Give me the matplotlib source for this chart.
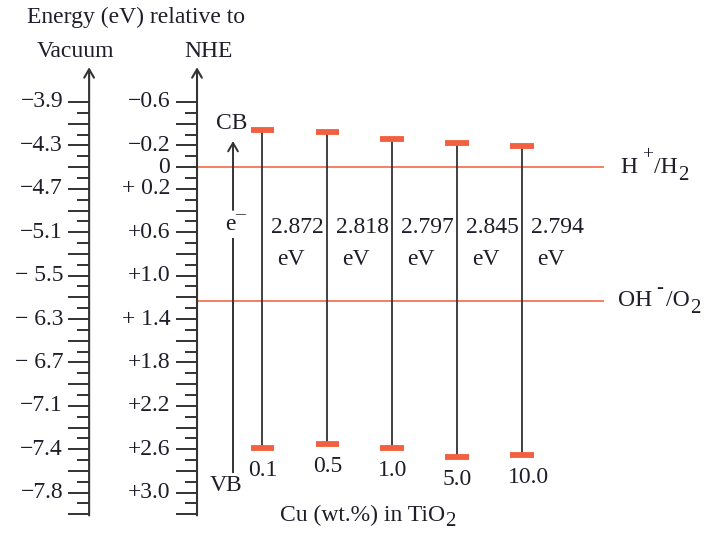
import numpy as np
import matplotlib
matplotlib.use('Agg')
import matplotlib.pyplot as plt

plt.rcParams['font.family'] = ['Liberation Serif', 'DejaVu Serif']

# data: band edges vs NHE (eV)
cu_loading = ['0.1', '0.5', '1.0', '5.0', '10.0']
band_gap = ['2.872', '2.818', '2.797', '2.845', '2.794']
cb_edge = [-0.34, -0.32, -0.26, -0.22, -0.19]
vb_edge = [2.59, 2.55, 2.59, 2.67, 2.65]

nhe_pos = [-0.6, -0.2, 0.0, 0.2, 0.6, 1.0, 1.4, 1.8, 2.2, 2.6, 3.0]
nhe_labels = ['−0.6', '−0.2', '0', '+ 0.2', '+0.6', '+1.0', '+ 1.4', '+1.8', '+2.2', '+2.6', '+3.0']
vac_pos = [-0.6, -0.2, 0.2, 0.6, 1.0, 1.4, 1.8, 2.2, 2.6, 3.0]
vac_labels = ['−3.9', '−4.3', '−4.7', '−5.1', '− 5.5', '− 6.3', '− 6.7', '−7.1', '−7.4', '−7.8']

h2_level = 0.0
o2_level = 1.23

red = '#f2603f'
line_red = '#f37656'
dark = '#333333'
txt = '#1e1e2a'
fs = 17


def chain_text(ax, x, y, parts, ha='left'):
    # parts: (text, size, vertical offset in points, gap in points)
    first = ax.text(x, y, parts[0][0], ha=ha, va='center', fontsize=parts[0][1], color=txt)
    prev = first
    for s, size, dy, gap in parts[1:]:
        prev = ax.annotate(s, xy=(1, 0.5), xycoords=(prev, first),
                           xytext=(gap, dy), textcoords='offset points',
                           ha='left', va='center', fontsize=size, color=txt)
    return first


fig = plt.figure(figsize=(7.09, 5.33), dpi=100)
ax = fig.add_axes([0, 0, 1, 1])
ax.axis('off')
ax.set_xlim(-4.031, 6.877)
ax.set_ylim(3.372, -1.540)

x_vac = -2.66
x_nhe = -1.0
minor = np.round(np.arange(-0.6, 3.21, 0.1), 2)

# two energy scales with arrows and ticks
for xa in (x_vac, x_nhe):
    ax.annotate('', xy=(xa, -0.92), xytext=(xa, 3.21),
                arrowprops=dict(arrowstyle='->,head_length=0.6,head_width=0.35',
                                color=dark, lw=1.5, shrinkA=0, shrinkB=0))
    for t in minor:
        long_tick = abs(round(t * 10)) % 2 == 0
        ax.hlines(t, xa - (0.33 if long_tick else 0.19), xa, color=dark, lw=1.4)

for p, lab in zip(vac_pos, vac_labels):
    ax.text(-3.06, p, lab, ha='right', va='center', fontsize=fs, color=txt)
for p, lab in zip(nhe_pos, nhe_labels):
    ax.text(-1.41, p, lab, ha='right', va='center', fontsize=fs, color=txt)

ax.text(-1.94, -1.383, 'Energy (eV) relative to', ha='center', va='center', fontsize=fs, color=txt)
ax.text(-2.877, -1.061, 'Vacuum', ha='center', va='center', fontsize=fs, color=txt)
ax.text(-0.815, -1.061, 'NHE', ha='center', va='center', fontsize=fs, color=txt)

# redox levels
ax.hlines([h2_level, o2_level], x_nhe, 5.26, color=line_red, lw=1.3)
chain_text(ax, 5.52, h2_level, [('H', fs, 0, 0), ('+', 14, 9, 3), ('/H', fs, 0, 1), ('2', 15, -6, 0)])
chain_text(ax, 5.48, o2_level, [('OH', fs, 0, 0), ('-', 15, 9, 3), ('/O', fs, 0, 2), ('2', 15, -6, 0)])

# CB / VB arrow with electron
ax.annotate('', xy=(-0.446, -0.24), xytext=(-0.446, 0.395),
            arrowprops=dict(arrowstyle='->,head_length=0.6,head_width=0.35',
                            color=dark, lw=1.4, shrinkA=0, shrinkB=0))
ax.vlines(-0.446, 0.653, 2.82, color=dark, lw=1.4)
ax.text(-0.46, -0.40, 'CB', ha='center', va='center', fontsize=fs, color=txt)
ax.text(-0.55, 2.93, 'VB', ha='center', va='center', fontsize=fs, color=txt)
chain_text(ax, -0.57, 0.53, [('e', fs, 0, 0), ('\u2013', 14, 7, 0)])

# band edges for each Cu loading
for i, (cb, vb) in enumerate(zip(cb_edge, vb_edge)):
    ax.vlines(i, cb, vb, color=dark, lw=1.3)
    ax.hlines([cb, vb], i - 0.177, i + 0.177, color=red, lw=4.2)
    ax.text(i + 0.54, 0.56, band_gap[i], ha='center', va='center', fontsize=fs, color=txt)
    ax.text(i + 0.45, 0.847, 'eV', ha='center', va='center', fontsize=fs, color=txt)
    ax.text(i - 0.22, vb + 0.21, cu_loading[i], ha='left', va='center', fontsize=fs, color=txt)

chain_text(ax, 0.28, 3.206, [('Cu (wt.%) in TiO', fs, 0, 0), ('2', 15, -5, 0)])

fig.savefig('out.png', dpi=100)
